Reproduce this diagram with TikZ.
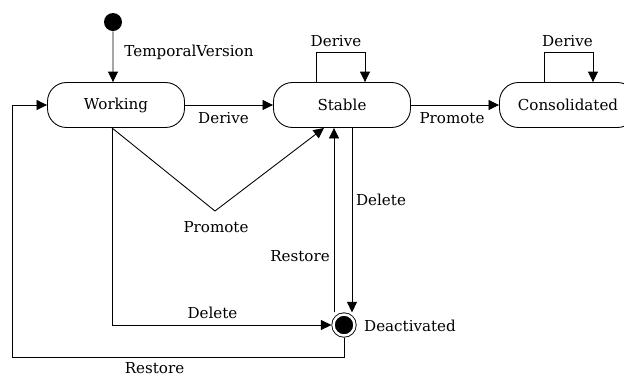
\documentclass[tikz,border=0pt]{standalone}
\usepackage{fontspec}
\setmainfont{DejaVu Serif}
\usetikzlibrary{arrows.meta}

\begin{document}
\begin{tikzpicture}[scale=0.2, line width=0.5pt,
		font=\fontsize{8.6}{10}\selectfont,
		state/.style={draw, rectangle, rounded corners=0.38cm, minimum width=2.74cm, minimum height=0.9cm},
		tr/.style={-{Triangle[length=0.21cm,width=0.2cm]}}]
		\tikzstyle{every node}+=[inner sep=0pt]
		\clip (0,0) rectangle (62.4,-37.8);
		% states
		\node [circle, fill=black, minimum size=0.36cm] (init) at (11.3,-2.2) {};
		\node [state] (work) at (11.6,-10.5) {Working};
		\node [state] (stab) at (34.2,-10.5) {Stable};
		\node [state] (cons) at (56.8,-10.5) {Consolidated};
		\node [circle, draw, fill=black, double=white, double distance=1.4pt, minimum size=0.42cm, outer sep=1.2pt] (deact) at (34.4,-32.5) {};
		\draw (41.0,-32.6) node (ldeact) {Deactivated};
		% bend points
		\coordinate (vtip) at (21.5,-21.1);
		\coordinate (rl) at (1.2,-35.7);
		% transitions
		\draw [tr] (init) -- (work.north -| init);
		\draw (18.9,-5.2) node (ltemp) {TemporalVersion};
		\draw [tr] (work.east) -- (stab.west);
		\draw (22.35,-11.8) node (lder1) {Derive};
		\draw [tr] (stab.east) -- (cons.west);
		\draw (45.2,-11.8) node (lprom1) {Promote};
		\draw [tr] (stab.north -| 31.6,0) -- ++(0,3) -| (stab.north -| 36.5,0);
		\draw (33.6,-4.1) node (lder2) {Derive};
		\draw [tr] (cons.north -| 54.4,0) -- ++(0,3) -| (cons.north -| 59.3,0);
		\draw (56.75,-4.1) node (lder3) {Derive};
		\draw [tr] (work.south -| 11.2,0) -- (vtip) -- (stab.south -| 32.4,0);
		\draw (21.6,-22.7) node (lprom2) {Promote};
		\draw [tr] (work.south -| 11.2,0) |- (deact.west);
		\draw (21.25,-31.3) node (ldel1) {Delete};
		\draw [tr] (stab.south -| 35.2,0) -- (deact.north -| 35.2,0);
		\draw (38.1,-20.0) node (ldel2) {Delete};
		\draw [tr] (deact.north -| 33.4,0) -- (stab.south -| 33.4,0);
		\draw (30.0,-25.6) node (lrest1) {Restore};
		\draw [tr] (deact.south) |- (rl) |- (work.west);
		\draw (15.45,-36.85) node (lrest2) {Restore};
	\end{tikzpicture}
\end{document}
